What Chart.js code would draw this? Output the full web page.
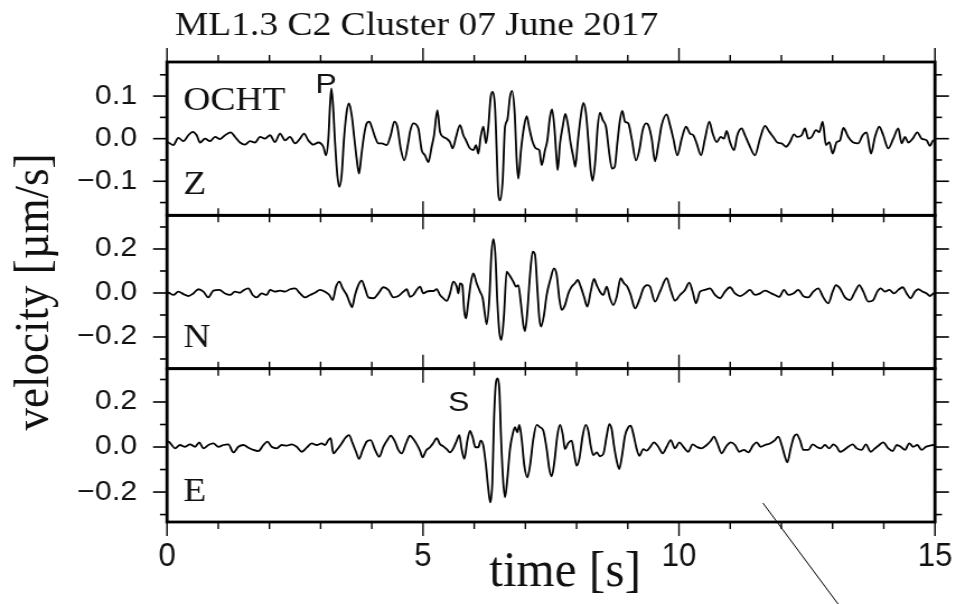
<!DOCTYPE html>
<html><head><meta charset="utf-8">
<script src="https://cdn.jsdelivr.net/npm/chart.js@4.4.0/dist/chart.umd.min.js"></script>
<style>
html,body{margin:0;padding:0;background:#fff;overflow:hidden;width:956px;height:604px;}
#wrap{position:absolute;left:0;top:0;width:854px;height:604px;transform:scaleX(1.119438);transform-origin:0 0;}
</style></head><body>
<div id="wrap"><canvas id="c" width="854" height="604"></canvas></div>
<script>
// ---------- data (time in s, velocity in µm/s) ----------
const zTime = [0.000,0.026,0.124,0.221,0.319,0.417,0.501,0.579,0.645,0.742,0.840,0.938,1.035,1.133,1.243,1.328,1.426,1.523,1.621,1.719,1.816,1.914,2.012,2.109,2.207,2.305,2.402,2.500,2.598,2.676,2.760,2.858,2.955,3.053,3.105,3.151,3.184,3.210,3.242,3.281,3.327,3.366,3.411,3.457,3.509,3.555,3.607,3.652,3.704,3.750,3.796,3.848,3.900,3.952,3.997,4.063,4.128,4.193,4.291,4.369,4.440,4.499,4.564,4.635,4.713,4.746,4.811,4.909,4.974,5.039,5.104,5.169,5.215,5.280,5.332,5.397,5.462,5.527,5.580,5.645,5.723,5.788,5.840,5.905,5.983,6.035,6.081,6.126,6.178,6.230,6.276,6.322,6.361,6.406,6.439,6.471,6.504,6.556,6.602,6.647,6.699,6.738,6.791,6.830,6.862,6.914,6.973,7.025,7.077,7.142,7.207,7.272,7.318,7.383,7.428,7.480,7.520,7.565,7.611,7.630,7.676,7.728,7.780,7.832,7.884,7.936,7.975,8.021,8.080,8.132,8.184,8.229,8.275,8.314,8.366,8.412,8.457,8.510,8.574,8.639,8.691,8.744,8.795,8.848,8.893,8.945,9.010,9.076,9.160,9.225,9.291,9.355,9.401,9.467,9.531,9.596,9.662,9.760,9.824,9.889,9.967,10.053,10.137,10.215,10.280,10.345,10.430,10.508,10.592,10.658,10.736,10.814,10.879,10.931,10.996,11.074,11.139,11.224,11.289,11.373,11.484,11.582,11.680,11.764,11.842,11.921,12.006,12.090,12.168,12.246,12.311,12.396,12.461,12.526,12.592,12.676,12.741,12.806,12.871,12.936,13.001,13.079,13.145,13.210,13.307,13.405,13.502,13.587,13.665,13.750,13.828,13.912,13.990,14.088,14.186,14.283,14.349,14.414,14.479,14.564,14.655,14.740,14.838,14.902,14.967,15.000];
const zVel  = [-0.008,-0.009,-0.015,0.002,-0.006,0.008,0.016,0.008,-0.009,0.000,-0.006,0.004,-0.001,0.008,0.015,0.004,-0.009,-0.014,-0.006,-0.009,0.004,0.000,0.008,-0.008,0.012,-0.004,0.004,-0.011,0.000,0.012,-0.004,-0.014,-0.009,-0.019,-0.039,0.000,0.079,0.118,0.079,-0.008,-0.086,-0.113,-0.086,0.000,0.063,0.083,0.055,0.008,-0.047,-0.082,-0.039,0.008,0.036,0.040,0.028,0.004,-0.011,-0.011,-0.015,0.008,0.040,0.028,-0.023,-0.051,-0.008,0.016,0.036,0.024,-0.027,-0.039,-0.055,-0.019,0.008,0.067,0.016,0.004,0.000,-0.008,-0.023,0.004,0.032,0.008,-0.004,-0.021,-0.027,-0.015,-0.035,0.004,0.028,-0.011,0.028,0.098,0.110,0.075,-0.027,-0.129,-0.145,-0.098,0.028,0.044,0.098,0.112,0.059,-0.051,-0.094,-0.027,0.028,0.053,0.024,-0.008,-0.023,-0.027,-0.062,-0.027,-0.004,0.051,0.069,0.028,-0.051,-0.074,-0.011,0.028,0.058,0.032,-0.011,-0.043,-0.066,-0.011,0.051,0.084,0.059,-0.004,-0.074,-0.099,-0.051,0.028,0.061,0.044,0.028,-0.035,-0.070,-0.066,-0.011,0.044,0.065,0.040,0.036,0.000,-0.051,-0.027,0.020,0.036,0.032,0.000,-0.053,-0.015,0.032,0.057,0.032,0.000,-0.039,0.000,0.028,0.012,0.008,-0.011,-0.039,0.000,0.040,0.012,-0.008,0.004,0.000,0.018,-0.008,-0.027,0.008,0.024,0.008,-0.015,-0.039,0.000,0.030,0.016,0.004,-0.009,-0.011,-0.019,-0.008,0.010,0.004,0.008,0.024,0.000,0.004,0.020,0.015,0.040,-0.015,-0.008,-0.035,-0.008,-0.004,0.025,0.004,-0.009,-0.011,0.008,0.015,-0.035,0.004,0.028,0.008,-0.023,0.000,0.024,-0.011,0.004,-0.009,0.000,0.015,0.000,-0.004,-0.017,-0.004,-0.005];

const nTime = [0.000,0.026,0.124,0.221,0.319,0.417,0.514,0.612,0.710,0.807,0.905,1.022,1.133,1.230,1.328,1.426,1.504,1.589,1.673,1.751,1.849,1.947,2.012,2.109,2.207,2.305,2.402,2.500,2.598,2.695,2.793,2.891,2.988,3.086,3.171,3.236,3.301,3.366,3.431,3.509,3.574,3.613,3.672,3.737,3.802,3.867,3.932,4.030,4.128,4.225,4.323,4.421,4.518,4.616,4.681,4.746,4.811,4.876,4.941,5.006,5.072,5.137,5.202,5.267,5.332,5.397,5.462,5.527,5.592,5.658,5.690,5.723,5.768,5.807,5.840,5.885,5.938,5.983,6.048,6.113,6.166,6.211,6.244,6.296,6.335,6.374,6.413,6.452,6.491,6.530,6.582,6.634,6.686,6.764,6.816,6.862,6.908,6.960,6.992,7.038,7.090,7.142,7.188,7.233,7.272,7.305,7.363,7.416,7.494,7.559,7.611,7.662,7.709,7.773,7.838,7.904,7.969,8.021,8.080,8.145,8.209,8.275,8.340,8.392,8.457,8.522,8.588,8.652,8.717,8.783,8.861,8.926,8.990,9.057,9.141,9.238,9.303,9.381,9.434,9.531,9.629,9.760,9.837,9.922,10.020,10.117,10.202,10.267,10.332,10.410,10.508,10.605,10.703,10.801,10.898,10.996,11.094,11.191,11.289,11.387,11.484,11.582,11.680,11.777,11.875,11.959,12.051,12.135,12.233,12.330,12.428,12.526,12.623,12.721,12.819,12.916,13.001,13.066,13.145,13.242,13.340,13.438,13.522,13.600,13.698,13.795,13.873,13.939,14.023,14.108,14.199,14.283,14.369,14.447,14.525,14.609,14.674,14.760,14.838,14.902,14.967,15.000];
const nVel  = [0.000,0.001,-0.009,0.006,-0.005,-0.014,-0.002,0.017,0.006,-0.020,0.011,0.014,-0.002,-0.009,0.006,0.001,0.014,0.021,-0.009,-0.020,-0.002,-0.009,0.014,0.006,0.011,0.006,0.017,0.021,-0.002,-0.020,-0.009,0.001,0.014,0.006,-0.009,-0.032,0.029,0.052,0.021,-0.009,-0.047,-0.065,-0.009,0.036,0.056,0.021,-0.020,-0.024,-0.002,0.026,0.014,-0.020,-0.014,0.006,0.017,-0.017,-0.009,0.014,0.029,-0.002,0.006,0.009,0.009,0.018,-0.009,-0.024,-0.036,-0.002,0.052,0.029,-0.002,0.044,0.036,-0.085,-0.115,-0.039,0.052,0.089,0.044,0.006,-0.024,-0.100,-0.142,-0.024,0.173,0.245,0.173,-0.039,-0.176,-0.214,-0.100,0.097,0.082,0.052,0.029,0.036,-0.039,-0.145,-0.173,-0.085,0.082,0.188,0.173,0.021,-0.115,-0.153,-0.100,-0.009,0.067,0.112,0.082,-0.024,-0.077,-0.055,-0.002,0.029,0.044,0.059,0.029,-0.017,-0.062,0.006,0.064,0.036,0.006,-0.009,0.029,-0.024,-0.055,-0.017,0.067,0.044,0.029,-0.009,-0.070,-0.024,0.021,0.036,0.029,-0.039,0.006,0.067,0.014,-0.035,-0.009,0.014,0.047,0.006,-0.047,0.006,0.014,0.021,-0.009,-0.024,0.006,0.026,-0.002,-0.014,-0.002,0.014,-0.009,-0.002,0.011,0.001,-0.009,-0.017,0.014,-0.009,-0.002,0.014,-0.014,-0.020,0.006,0.021,-0.020,-0.047,0.006,0.036,0.021,-0.020,-0.032,0.006,0.036,0.006,-0.039,-0.032,0.006,0.021,0.006,0.014,-0.002,0.014,0.026,-0.002,-0.024,0.006,0.017,0.006,-0.002,-0.014,-0.002,0.000];

const eTime = [0.000,0.026,0.091,0.156,0.254,0.352,0.449,0.547,0.631,0.710,0.807,0.905,1.003,1.100,1.198,1.296,1.393,1.491,1.589,1.686,1.784,1.882,1.960,2.044,2.142,2.240,2.337,2.435,2.533,2.630,2.728,2.826,2.923,3.021,3.086,3.151,3.197,3.249,3.314,3.411,3.477,3.555,3.626,3.691,3.750,3.822,3.900,3.978,4.063,4.147,4.225,4.303,4.369,4.453,4.518,4.584,4.668,4.746,4.811,4.876,4.941,4.993,5.059,5.137,5.202,5.267,5.332,5.397,5.462,5.527,5.592,5.658,5.709,5.755,5.807,5.866,5.918,5.970,6.022,6.081,6.126,6.178,6.230,6.276,6.315,6.354,6.387,6.426,6.459,6.491,6.523,6.563,6.602,6.647,6.699,6.752,6.797,6.842,6.882,6.927,6.979,7.038,7.090,7.155,7.221,7.285,7.350,7.416,7.467,7.514,7.565,7.623,7.676,7.728,7.773,7.838,7.904,7.949,8.002,8.053,8.119,8.178,8.229,8.275,8.327,8.392,8.457,8.522,8.588,8.639,8.685,8.730,8.783,8.834,8.887,8.945,9.010,9.057,9.108,9.174,9.225,9.303,9.369,9.434,9.512,9.596,9.681,9.760,9.838,9.922,10.006,10.085,10.182,10.267,10.345,10.443,10.541,10.619,10.684,10.749,10.834,10.918,11.010,11.094,11.178,11.270,11.354,11.451,11.517,11.595,11.680,11.777,11.875,11.940,12.006,12.070,12.116,12.182,12.246,12.299,12.363,12.428,12.526,12.611,12.689,12.767,12.852,12.936,13.014,13.080,13.145,13.223,13.307,13.393,13.471,13.568,13.652,13.744,13.828,13.912,13.990,14.088,14.174,14.252,14.330,14.414,14.498,14.576,14.655,14.740,14.824,14.902,14.967,15.000];
const eVel  = [0.020,0.024,0.009,-0.006,0.009,0.001,0.012,0.001,0.021,-0.006,0.009,0.016,0.001,0.009,0.012,-0.024,0.001,0.009,-0.003,-0.013,-0.018,0.009,0.024,0.001,-0.006,0.009,0.006,0.012,0.001,-0.021,-0.003,0.016,0.009,0.016,0.009,0.031,0.039,-0.028,-0.013,0.016,0.039,0.053,0.016,-0.021,-0.053,-0.013,0.024,0.031,-0.013,-0.043,0.001,0.031,0.050,0.024,-0.013,-0.028,0.016,0.050,0.036,0.013,-0.016,-0.046,-0.016,-0.001,0.018,0.039,0.013,0.003,-0.009,-0.024,-0.006,0.028,0.053,-0.009,-0.053,0.028,0.072,0.043,-0.001,-0.001,0.028,0.006,-0.083,-0.187,-0.246,-0.157,0.124,0.288,0.305,0.258,0.050,-0.142,-0.224,-0.142,-0.009,0.058,0.088,0.065,0.098,0.036,-0.083,-0.135,-0.083,0.036,0.098,0.088,0.072,-0.009,-0.098,-0.130,-0.068,0.050,0.098,0.058,-0.009,0.018,0.028,-0.024,-0.083,-0.053,0.050,0.098,0.072,0.006,-0.036,-0.024,-0.041,-0.031,0.050,0.102,0.080,0.006,-0.061,-0.098,-0.039,0.050,0.088,0.095,0.058,-0.009,-0.039,-0.009,-0.016,-0.001,0.021,0.001,-0.028,0.001,0.031,-0.006,0.021,0.001,-0.021,0.012,0.001,-0.006,0.009,0.027,0.046,0.016,-0.028,0.001,0.021,0.009,-0.021,-0.013,-0.024,0.009,0.021,0.001,0.009,0.016,0.031,0.046,0.009,-0.043,-0.068,-0.006,0.046,0.056,0.031,-0.013,-0.013,0.012,0.001,-0.006,0.009,-0.006,0.012,0.001,-0.021,-0.013,0.001,0.012,-0.006,-0.013,0.012,-0.021,-0.006,0.009,0.021,-0.006,-0.018,0.009,0.001,-0.013,0.016,0.001,0.009,-0.013,0.001,0.006,0.009,0.005];

// tick values
const timeTicks   = [0,5,10,15];
const timeMinor   = [0,1,2,3,4,5,6,7,8,9,10,11,12,13,14,15];
const zTicks      = [-0.1,0,0.1];
const zMinor      = [-0.15,-0.1,-0.05,0,0.05,0.1,0.15];
const nTicks      = [-0.2,0,0.2];
const nMinor      = [-0.3,-0.2,-0.1,0,0.1,0.2,0.3];
const eTicks      = [-0.2,0,0.2];
const eMinor      = [-0.3,-0.2,-0.1,0,0.1,0.2,0.3];
// stray pen stroke in the original (time, E-velocity)
const strokeT = [11.64, 13.11];
const strokeV = [-0.249, -0.698];

// ---------- rendering ----------
const SX = 956/854;
const serif = '"Liberation Serif","Times New Roman",serif';
const sans  = '"Liberation Sans",Arial,sans-serif';
const INK = '#111';
const fmt = v => { const r = Math.round(v*10)/10; return (r < 0 ? '\u2212' : '') + Math.abs(r).toFixed(1); };
const pts = (t, v) => t.map((x, i) => ({x, y: v[i]}));

function yAxis(min, max, ticks) {
  return {
    type: 'linear', position: 'left', stack: 'traces', stackWeight: 1, min, max,
    grid: {display: false, drawTicks: false}, border: {display: false},
    ticks: {font: {family: sans, size: 27}, color: INK, padding: 26.8, autoSkip: false, callback: v => fmt(v)},
    afterBuildTicks: s => { s.ticks = ticks.map(v => ({value: v})); },
    afterFit: s => { s.width = 120; }
  };
}

const panels = [
  {id: 'yZ', minor: zMinor, major: zTicks},
  {id: 'yN', minor: nMinor, major: nTicks},
  {id: 'yE', minor: eMinor, major: eTicks}
];

const framePlugin = {
  id: 'frames',
  afterDatasetsDraw(chart) {
    const {ctx, chartArea, scales} = chart;
    const xs = scales.x, L = chartArea.left, R = chartArea.right;
    const seg = (a, b, c, d) => { ctx.beginPath(); ctx.moveTo(a, b); ctx.lineTo(c, d); ctx.stroke(); };
    ctx.save();
    ctx.strokeStyle = '#000';
    panels.forEach(p => {
      const s = scales[p.id];
      ctx.lineWidth = 1.6;
      p.minor.forEach(v => {
        const y = s.getPixelForValue(v);
        const len = p.major.includes(v) ? 12.5 : 6.3;
        seg(L - len, y, L, y);
        seg(R, y, R + len, y);
      });
      ctx.lineWidth = 1.4;
      timeMinor.forEach(t => {
        const px = xs.getPixelForValue(t);
        const len = timeTicks.includes(t) ? 14 : 7;
        seg(px, s.top - len, px, s.top);
        seg(px, s.bottom, px, s.bottom + len);
      });
    });
    ctx.lineWidth = 2.8;
    panels.forEach(p => {
      const s = scales[p.id];
      ctx.strokeRect(L, s.top, R - L, s.bottom - s.top);
    });
    // stray stroke
    const ye = scales.yE;
    ctx.lineWidth = 1;
    seg(xs.getPixelForValue(strokeT[0]), ye.getPixelForValue(strokeV[0]),
        xs.getPixelForValue(strokeT[1]), ye.getPixelForValue(strokeV[1]));
    ctx.restore();
  },
  afterDraw(chart) {
    const {ctx, chartArea, scales} = chart;
    const xs = scales.x;
    ctx.save();
    ctx.fillStyle = INK;
    ctx.textBaseline = 'alphabetic';
    // title
    ctx.textAlign = 'left';
    ctx.font = '33.5px ' + serif;
    ctx.fillText('ML1.3 C2 Cluster 07 June 2017', 175 / SX, 35);
    // x tick labels (taller glyphs, as in the original)
    ctx.textAlign = 'center';
    ctx.font = '28px ' + sans;
    xs.ticks.forEach(t => {
      ctx.save();
      ctx.translate(xs.getPixelForValue(t.value), 566);
      ctx.scale(1, 1.2);
      ctx.fillText(String(t.value), 0, 0);
      ctx.restore();
    });
    // x axis title
    ctx.font = '44px ' + serif;
    ctx.save();
    ctx.translate(565 / SX, 586);
    ctx.scale(1, 1.15);
    ctx.fillText('time [s]', 0, 0);
    ctx.restore();
    // y axis title
    ctx.save();
    ctx.translate(48 / SX, (chartArea.top + chartArea.bottom) / 2);
    ctx.rotate(-Math.PI / 2);
    ctx.font = '45px ' + serif;
    ctx.fillText('velocity [\u00b5m/s]', 0, 0);
    ctx.restore();
    // station / component labels
    ctx.textAlign = 'left';
    ctx.font = '33.5px ' + serif;
    const lx = chartArea.left + 14.5;
    ctx.fillText('OCHT', lx, scales.yZ.top + 48);
    ctx.fillText('Z', lx, scales.yZ.bottom - 21);
    ctx.fillText('N', lx, scales.yN.bottom - 22);
    ctx.fillText('E', lx, scales.yE.bottom - 21);
    // phase picks
    ctx.font = '28.5px ' + sans;
    ctx.fillText('P', xs.getPixelForValue(2.90), scales.yZ.getPixelForValue(0.107));
    ctx.fillText('S', xs.getPixelForValue(5.49), scales.yE.getPixelForValue(0.16));
    ctx.restore();
  }
};

const lineDs = (data, axis) => ({
  data, yAxisID: axis, borderColor: '#000', borderWidth: 1.8,
  pointRadius: 0, cubicInterpolationMode: 'monotone', fill: false
});

new Chart(document.getElementById('c'), {
  type: 'line',
  data: {
    datasets: [
      lineDs(pts(zTime, zVel), 'yZ'),
      lineDs(pts(nTime, nVel), 'yN'),
      lineDs(pts(eTime, eVel), 'yE')
    ]
  },
  options: {
    responsive: false, animation: false, devicePixelRatio: 1,
    layout: {padding: {left: 29.2, right: 18.8, top: 62, bottom: 32}},
    plugins: {legend: {display: false}, tooltip: {enabled: false}, title: {display: false}},
    scales: {
      x: {
        type: 'linear', position: 'bottom', min: 0, max: 15,
        grid: {display: false, drawTicks: false}, border: {display: false},
        ticks: {display: false, autoSkip: false, maxRotation: 0},
        afterBuildTicks: s => { s.ticks = timeTicks.map(v => ({value: v})); },
        afterFit: s => { s.height = 50; }
      },
      yE: yAxis(-0.333, 0.348, eTicks),
      yN: yAxis(-0.344, 0.353, nTicks),
      yZ: yAxis(-0.18, 0.18, zTicks)
    }
  },
  plugins: [framePlugin]
});
</script>
</body></html>
